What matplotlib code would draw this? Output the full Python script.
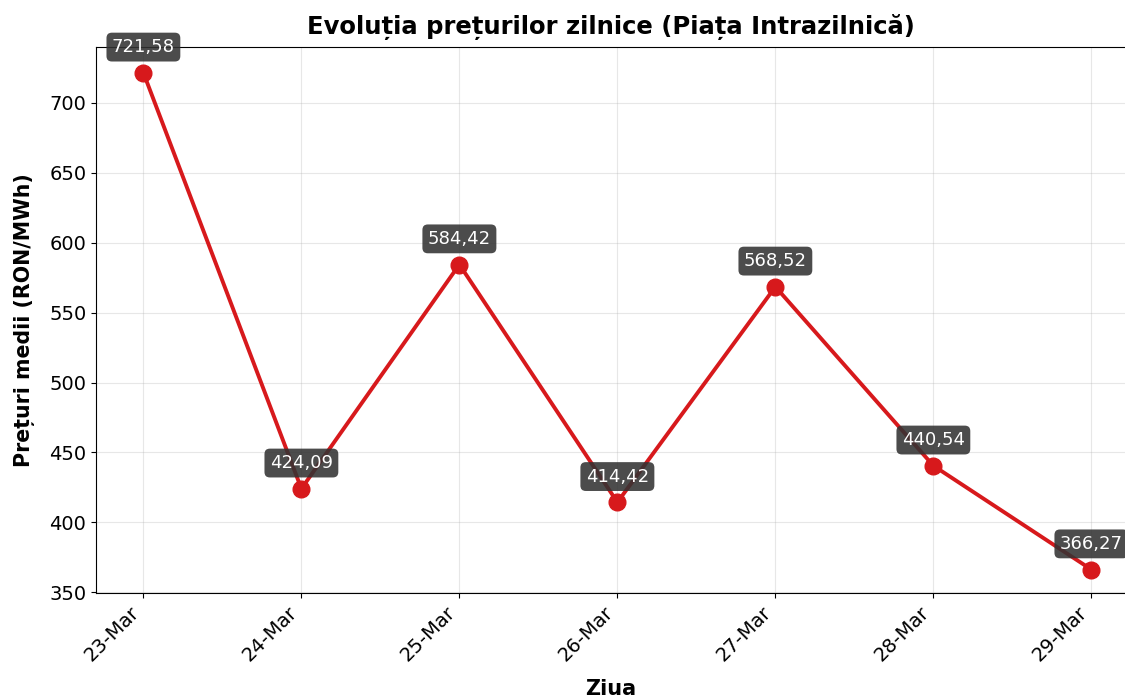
import matplotlib.pyplot as plt

zile = ["23-Mar", "24-Mar", "25-Mar", "26-Mar", "27-Mar", "28-Mar", "29-Mar"]
preturi = [721.58, 424.09, 584.42, 414.42, 568.52, 440.54, 366.27]

fig = plt.figure(figsize=(11.25, 6.98), dpi=100)
ax = fig.add_axes([96 / 1125, 1 - 593 / 698, 1 - 96 / 1125 + 0.001, (593 - 47) / 698])

x = list(range(len(zile)))
ax.plot(x, preturi, color="#d7191c", linewidth=2.8, marker="o", markersize=12, zorder=3)

for xi, v in zip(x, preturi):
    ax.annotate(
        f"{v:.2f}".replace(".", ","),
        xy=(xi, v),
        xytext=(0, 12),
        textcoords="offset points",
        ha="center",
        va="bottom",
        fontsize=13,
        color="white",
        bbox=dict(boxstyle="round,pad=0.3", facecolor="#333333", edgecolor="none", alpha=0.88),
        zorder=4,
    )

ax.set_xticks(x)
ax.set_xticklabels(zile, rotation=45, ha="right", fontsize=14)
ax.tick_params(axis="y", labelsize=14)
ax.set_xlim(-0.3, 6.22)
ax.set_ylim(349.5, 740)

ax.grid(True, alpha=0.3)
ax.set_title("Evoluția prețurilor zilnice (Piața Intrazilnică)", fontsize=17.5, fontweight="bold", pad=9)
ax.set_xlabel("Ziua", fontsize=15, fontweight="bold", labelpad=10)
ax.set_ylabel("Prețuri medii (RON/MWh)", fontsize=14.8, fontweight="bold", labelpad=10)

fig.savefig("out.png", dpi=100)
